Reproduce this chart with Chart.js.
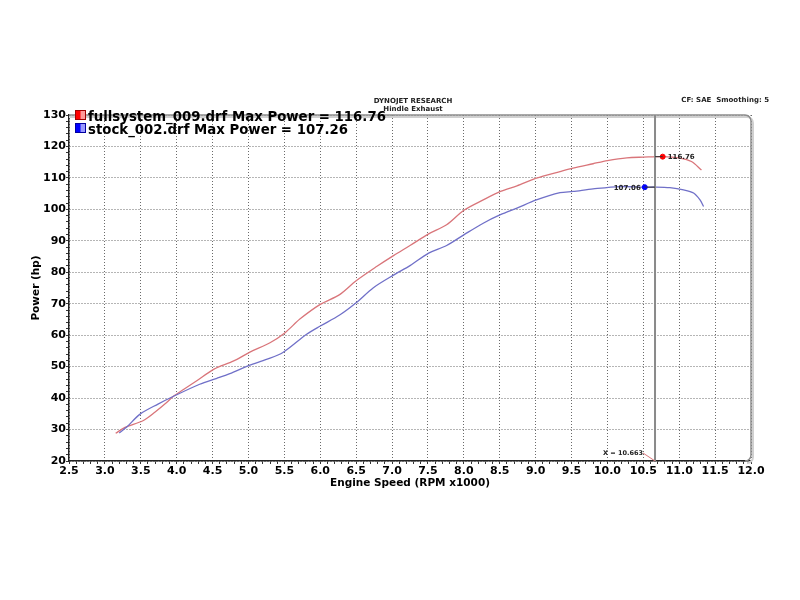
<!DOCTYPE html>
<html>
<head>
<meta charset="utf-8">
<title>Dyno chart</title>
<script src="https://cdn.jsdelivr.net/npm/chart.js@4.4.1/dist/chart.umd.min.js"></script>
<style>
  body { margin: 0; background: #fff; }
  #wrap { width: 800px; height: 600px; }
</style>
</head>
<body>
<div id="wrap"><canvas id="dynoChart" width="800" height="600"></canvas></div>
<script>
// Run data (rpm x1000, hp)
let fullRpm = [3.15, 3.28, 3.53, 3.70, 3.86, 3.95, 4.10, 4.28, 4.52, 4.74, 4.84, 5.02, 5.30, 5.51, 5.72, 6.00,
    6.27, 6.50, 6.79, 7.02, 7.25, 7.51, 7.76, 8.00, 8.27, 8.51, 8.74, 9.01, 9.34, 9.52, 9.80, 10.00,
    10.27, 10.50, 10.77, 11.01, 11.17, 11.31];
let fullHp = [28.8, 30.7, 32.8, 35.6, 38.6, 40.5, 42.8, 45.5, 49.2, 51.3, 52.3, 54.6, 57.6, 60.8, 65.2, 69.8,
    72.9, 77.3, 81.9, 85.3, 88.5, 92.2, 95.1, 99.7, 103.0, 105.7, 107.5, 109.9, 112.0, 113.1, 114.5, 115.5,
    116.4, 116.6, 116.76, 116.3, 115.2, 112.5];

let stockRpm = [3.20, 3.30, 3.49, 3.74, 3.95, 4.32, 4.56, 4.74, 5.01, 5.25, 5.48, 5.81, 6.00, 6.27, 6.50, 6.74,
    7.02, 7.25, 7.51, 7.76, 8.00, 8.27, 8.51, 8.74, 9.01, 9.34, 9.52, 9.80, 10.17, 10.52, 10.68, 10.87,
    11.06, 11.20, 11.29, 11.34];
let stockHp = [28.9, 30.7, 34.9, 38.1, 40.5, 44.4, 46.3, 47.8, 50.4, 52.3, 54.5, 60.3, 62.9, 66.4, 70.3, 75.1,
    79.1, 82.1, 86.1, 88.5, 91.9, 95.6, 98.3, 100.4, 103.0, 105.3, 105.7, 106.5, 107.26, 107.06, 107.1, 106.9,
    106.2, 105.2, 103.0, 100.9];

// Run names, max power and the cursor readout
let runNames = ["fullsystem_009.drf", "stock_002.drf"];
let maxPower = [116.76, 107.26];
let markerRpm = [10.77, 10.52];
let markerHp = [116.76, 107.06];
let cursorRpm = 10.663;

let redLine = "#d9757a";
let blueLine = "#7070c8";
let font = "DejaVu Sans";

function toPoints(xs, ys) {
    return xs.map((x, i) => ({ x: x, y: ys[i] }));
}

// Extra drawing: frame, cursor, readouts, legend, header texts
const dynoDecor = {
    id: "dynoDecor",
    beforeDatasetsDraw(chart) {
        const { ctx, chartArea: a } = chart;
        const r = 6;
        ctx.save();
        // soft shadow on the right side
        ctx.strokeStyle = "#d0d0d0";
        ctx.lineWidth = 2;
        ctx.beginPath();
        ctx.moveTo(a.left, a.top + 2);
        ctx.lineTo(a.right - r + 2, a.top + 2);
        ctx.arcTo(a.right + 2, a.top + 2, a.right + 2, a.top + r + 2, r);
        ctx.lineTo(a.right + 2, a.bottom - r + 2);
        ctx.arcTo(a.right + 2, a.bottom + 2, a.right - r + 2, a.bottom + 2, r);
        ctx.stroke();
        // frame top and right
        ctx.strokeStyle = "#8c8c8c";
        ctx.lineWidth = 1.5;
        ctx.beginPath();
        ctx.moveTo(a.left, a.top);
        ctx.lineTo(a.right - r, a.top);
        ctx.arcTo(a.right, a.top, a.right, a.top + r, r);
        ctx.lineTo(a.right, a.bottom - r);
        ctx.arcTo(a.right, a.bottom, a.right - r, a.bottom, r);
        ctx.stroke();
        ctx.restore();
    },
    afterDatasetsDraw(chart) {
        const { ctx, chartArea: a, scales } = chart;
        const x = scales.x, y = scales.y;
        const cx = x.getPixelForValue(cursorRpm);
        ctx.save();
        // cursor line
        ctx.strokeStyle = "#8a8a8a";
        ctx.lineWidth = 2;
        ctx.beginPath();
        ctx.moveTo(cx, a.top);
        ctx.lineTo(cx, a.bottom);
        ctx.stroke();

        // leader lines from markers to cursor
        ctx.lineWidth = 1;
        ctx.strokeStyle = "#333";
        for (let i = 0; i < markerRpm.length; i++) {
            const my = y.getPixelForValue(markerHp[i]);
            ctx.beginPath();
            ctx.moveTo(x.getPixelForValue(markerRpm[i]), my);
            ctx.lineTo(cx, my);
            ctx.stroke();
        }

        // marker value labels
        ctx.fillStyle = "#222";
        ctx.font = "bold 7px " + font;
        ctx.textBaseline = "middle";
        ctx.textAlign = "left";
        ctx.fillText(markerHp[0].toFixed(2), x.getPixelForValue(markerRpm[0]) + 5, y.getPixelForValue(markerHp[0]) + 1);
        ctx.textAlign = "right";
        ctx.fillText(markerHp[1].toFixed(2), x.getPixelForValue(markerRpm[1]) - 4, y.getPixelForValue(markerHp[1]) + 1);

        // X readout at the bottom
        ctx.font = "bold 6.5px " + font;
        ctx.textAlign = "right";
        ctx.fillText("X = " + cursorRpm.toFixed(3), cx - 12, a.bottom - 8);
        ctx.strokeStyle = "#d9757a";
        ctx.beginPath();
        ctx.moveTo(cx - 12, a.bottom - 8);
        ctx.lineTo(cx, a.bottom);
        ctx.stroke();
        ctx.restore();
    },
    afterDraw(chart) {
        const { ctx } = chart;
        ctx.save();
        // header
        ctx.fillStyle = "#222";
        ctx.font = "bold 7px " + font;
        ctx.textBaseline = "middle";
        ctx.textAlign = "center";
        ctx.fillText("DYNOJET RESEARCH", 413, 101);
        ctx.fillText("Hindle Exhaust", 413, 109);
        ctx.textAlign = "right";
        ctx.fillText("CF: SAE  Smoothing: 5", 769, 100);

        // legend
        const boxColors = [["#ff0000", "#ff9a9a", "#a00000"], ["#0000ff", "#9a9aff", "#0000a0"]];
        ctx.textAlign = "left";
        ctx.font = "bold 13.3px " + font;
        for (let i = 0; i < runNames.length; i++) {
            const by = 110 + i * 13;
            const g = ctx.createLinearGradient(75, 0, 86, 0);
            g.addColorStop(0, boxColors[i][0]);
            g.addColorStop(0.45, boxColors[i][0]);
            g.addColorStop(0.55, boxColors[i][1]);
            g.addColorStop(1, boxColors[i][1]);
            ctx.fillStyle = g;
            ctx.fillRect(75, by, 11, 10);
            ctx.strokeStyle = boxColors[i][2];
            ctx.lineWidth = 1;
            ctx.strokeRect(75.5, by + 0.5, 10, 9);
            ctx.fillStyle = "#000";
            ctx.fillText(runNames[i] + " Max Power = " + maxPower[i].toFixed(2), 88, by + 8);
        }
        ctx.restore();
    }
};

function majorX(v) {
    return Math.round(v * 10) % 5 === 0;
}

function majorY(v) {
    return Math.round(v) % 10 === 0;
}

let ctx = document.getElementById("dynoChart").getContext("2d");

let chart = new Chart(ctx, {
    type: "scatter",
    data: {
        datasets: [
            {
                label: runNames[0],
                data: toPoints(fullRpm, fullHp),
                showLine: true,
                borderColor: redLine,
                borderWidth: 1.3,
                pointRadius: 0,
                tension: 0.3,
                order: 3
            },
            {
                label: runNames[1],
                data: toPoints(stockRpm, stockHp),
                showLine: true,
                borderColor: blueLine,
                borderWidth: 1.3,
                pointRadius: 0,
                tension: 0.3,
                order: 2
            },
            {
                label: "markers",
                data: toPoints(markerRpm, markerHp),
                pointRadius: 2.5,
                pointBackgroundColor: ["#ff0000", "#0000ff"],
                pointBorderColor: ["#ff0000", "#0000ff"],
                order: 1
            }
        ]
    },
    options: {
        responsive: false,
        animation: false,
        events: [],
        layout: { padding: { left: 0, top: 115, right: 49, bottom: 110 } },
        plugins: {
            legend: { display: false },
            tooltip: { enabled: false },
            title: { display: false }
        },
        scales: {
            x: {
                type: "linear",
                min: 2.5,
                max: 12,
                afterFit: function(scale) { scale.height = 29; },
                ticks: {
                    stepSize: 0.1,
                    autoSkip: false,
                    maxRotation: 0,
                    minRotation: 0,
                    padding: 1,
                    color: "#000",
                    font: { family: font, size: 11, weight: "bold" },
                    callback: function(value) {
                        return majorX(value) ? value.toFixed(1) : "";
                    }
                },
                grid: {
                    color: function(c) {
                        if (!c.tick) return "transparent";
                        return majorX(c.tick.value) ? "#6a6a6a" : "transparent";
                    },
                    tickColor: "#333",
                    tickLength: 3,
                    lineWidth: 1
                },
                border: { display: true, color: "#222", width: 1.5, dash: [1, 2] },
                title: {
                    display: true,
                    text: "Engine Speed (RPM x1000)",
                    color: "#000",
                    font: { family: font, size: 10.5, weight: "bold" },
                    padding: { top: 0, bottom: 0 }
                }
            },
            y: {
                type: "linear",
                min: 20,
                max: 130,
                afterFit: function(scale) { scale.width = 69; },
                ticks: {
                    stepSize: 2,
                    autoSkip: false,
                    padding: 0,
                    color: "#000",
                    font: { family: font, size: 11, weight: "bold" },
                    callback: function(value) {
                        return majorY(value) ? String(Math.round(value)) : "";
                    }
                },
                grid: {
                    color: function(c) {
                        if (!c.tick) return "transparent";
                        return majorY(c.tick.value) ? "#6a6a6a" : "transparent";
                    },
                    tickColor: "#333",
                    tickLength: 3,
                    lineWidth: 1
                },
                border: { display: true, color: "#222", width: 1.5, dash: [1, 2] },
                title: {
                    display: true,
                    text: "Power (hp)",
                    color: "#000",
                    font: { family: font, size: 10.5, weight: "bold" },
                    padding: { top: 30, bottom: 0 }
                }
            }
        }
    },
    plugins: [dynoDecor]
});
</script>
</body>
</html>
